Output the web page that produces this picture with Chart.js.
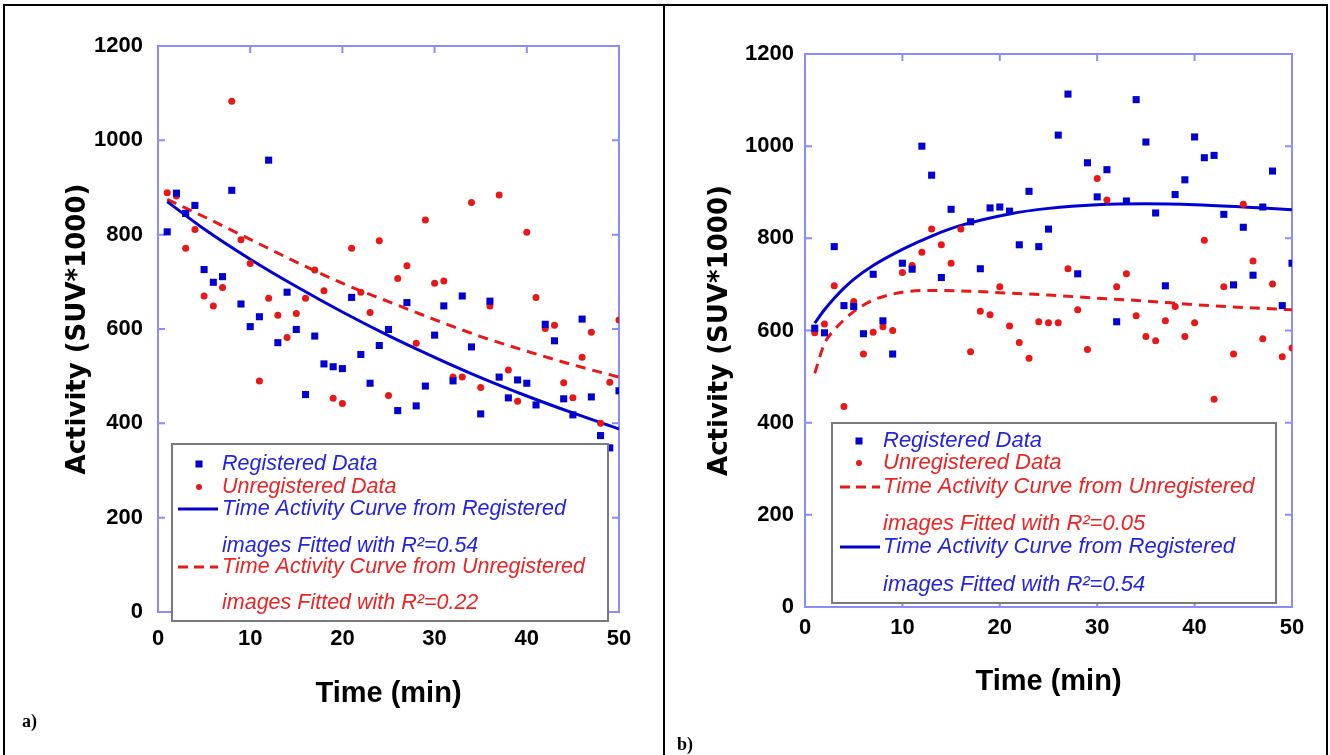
<!DOCTYPE html>
<html>
<head>
<meta charset="utf-8">
<title>Time Activity Curves</title>
<script src="https://cdn.jsdelivr.net/npm/chart.js@4.4.1/dist/chart.umd.min.js"></script>
<style>
  html, body { margin: 0; padding: 0; background: #fff; }
  body { width: 1330px; height: 755px; position: relative; overflow: hidden; }
  canvas { position: absolute; top: 0; }
  #chartA { left: 0; }
  #chartB { left: 664px; }
  .rule { position: absolute; background: #000; }
  .tag { position: absolute; font-family: 'Liberation Serif', 'Times New Roman', serif; font-weight: bold; font-size: 18px; color: #000; }
</style>
</head>
<body>
<canvas id="chartA" width="664" height="755"></canvas>
<canvas id="chartB" width="666" height="755"></canvas>

<div class="rule" style="left:3px;top:4px;width:1325px;height:2px"></div>
<div class="rule" style="left:3px;top:4px;width:2px;height:751px"></div>
<div class="rule" style="left:663px;top:4px;width:2px;height:751px"></div>
<div class="rule" style="left:1326px;top:4px;width:2px;height:751px"></div>
<div class="tag" style="left:22px;top:711px">a)</div>
<div class="tag" style="left:677px;top:734px">b)</div>

<script>
// ---- data ----
const minutes = [1, 2, 3, 4, 5, 6, 7, 8, 9, 10, 11, 12, 13, 14, 15, 16, 17, 18, 19, 20,
  21, 22, 23, 24, 25, 26, 27, 28, 29, 30, 31, 32, 33, 34, 35, 36, 37, 38, 39, 40,
  41, 42, 43, 44, 45, 46, 47, 48, 49, 50];

// panel a)
const regA = [806, 888, 845, 862, 726, 699, 711, 894, 653, 605, 626, 958, 571, 678, 599, 461, 585, 526, 520, 516,
  667, 546, 485, 565, 599, 427, 656, 437, 479, 587, 649, 490, 670, 562, 420, 659, 498, 454, 492, 485,
  439, 610, 575, 452, 418, 621, 456, 374, 348, 469];
const unregA = [889, 882, 771, 811, 670, 649, 688, 1083, 789, 739, 490, 665, 629, 582, 633, 665, 725, 681, 453, 442,
  771, 678, 635, 787, 459, 707, 734, 570, 831, 697, 702, 498, 498, 868, 476, 649, 884, 513, 447, 805,
  667, 601, 608, 486, 454, 540, 593, 400, 487, 619];
const fitTimeA = [1, 5, 10, 15, 20, 25, 30, 35, 40, 45, 50];
const fitRegA = [870, 812, 748, 690, 636, 586, 540, 497, 458, 422, 388];
const fitUnregA = [875, 838, 790, 742, 697, 658, 620, 584, 553, 524, 498];

// panel b)
const regB = [605, 595, 782, 654, 652, 593, 722, 621, 549, 746, 733, 1000, 937, 715, 863, null, 836, 734, 866, 868,
  859, 786, 902, 782, 820, 1024, 1113, 723, 964, 890, 949, 619, 881, 1101, 1009, 855, 697, 895, 927, 1020,
  975, 980, 852, 699, 824, 720, 868, 946, 654, 746];
const unregB = [595, 614, 697, 435, 663, 549, 596, 608, 600, 726, 741, 770, 820, 786, 746, 820, 554, 642, 634, 695,
  610, 574, 540, 619, 617, 617, 734, 645, 559, 930, 883, 695, 723, 632, 587, 578, 621, 652, 587, 617,
  796, 451, 695, 549, 874, 751, 582, 701, 543, 562];
const fitTimeB = [1, 2, 3, 4, 5, 7, 10, 13, 16, 21, 25, 30, 35, 40, 45, 50];
const fitRegB = [616, 645, 670, 692, 711, 741, 776, 805, 828, 853, 865, 873, 875, 873, 868, 862];
const fitUnregB = [507, 572, 601, 623, 641, 666, 683, 687, 686, 681, 677, 670, 664, 656, 650, 645];

const timeTicks = [0, 10, 20, 30, 40, 50];
const activityTicks = [0, 200, 400, 600, 800, 1000, 1200];

// ---- styles ----
const BLUE = '#0000d2';
const RED = '#e81818';
const BLUE_TEXT = '#2424e0';
const RED_TEXT = '#ec2424';
const FRAME = '#8c8cf8';
const SANS = "'Liberation Sans', Arial, Helvetica, sans-serif";

function toPoints(xs, ys) {
    return xs.map((x, i) => ({ x: x, y: ys[i] }));
}

// plot border with inward tick marks on all four sides
const framePlugin = {
    id: 'frame',
    beforeDatasetsDraw(chart) {
        const { ctx, chartArea: a, scales } = chart;
        ctx.save();
        ctx.strokeStyle = FRAME;
        ctx.lineWidth = 2;
        ctx.strokeRect(a.left, a.top, a.right - a.left, a.bottom - a.top);
        ctx.beginPath();
        scales.x.ticks.forEach((t) => {
            const px = scales.x.getPixelForValue(t.value);
            ctx.moveTo(px, a.bottom); ctx.lineTo(px, a.bottom - 7);
            ctx.moveTo(px, a.top); ctx.lineTo(px, a.top + 7);
        });
        scales.y.ticks.forEach((t) => {
            const py = scales.y.getPixelForValue(t.value);
            ctx.moveTo(a.left, py); ctx.lineTo(a.left + 7, py);
            ctx.moveTo(a.right, py); ctx.lineTo(a.right - 7, py);
        });
        ctx.stroke();
        ctx.restore();
    },
};

// boxed legend drawn inside the plot
function makeLegend(cfg) {
    return {
        id: 'tacLegend',
        afterDraw(chart) {
            const ctx = chart.ctx;
            const [x0, y0, x1, y1] = cfg.box;
            ctx.save();
            ctx.fillStyle = '#fff';
            ctx.fillRect(x0, y0, x1 - x0, y1 - y0);
            ctx.strokeStyle = '#7a7a7a';
            ctx.lineWidth = 2;
            ctx.strokeRect(x0, y0, x1 - x0, y1 - y0);
            ctx.font = 'italic ' + cfg.size + 'px ' + SANS;
            ctx.textBaseline = 'middle';
            ctx.textAlign = 'left';
            cfg.rows.forEach((r) => {
                const blue = r.color === 'blue';
                if (r.mark === 'rect') {
                    ctx.fillStyle = BLUE;
                    ctx.fillRect(cfg.markX - 3.5, r.y - 3.5, 7, 7);
                } else if (r.mark === 'dot') {
                    ctx.fillStyle = RED;
                    ctx.beginPath();
                    ctx.arc(cfg.markX, r.y, 3, 0, Math.PI * 2);
                    ctx.fill();
                } else if (r.mark === 'solid' || r.mark === 'dash') {
                    ctx.strokeStyle = blue ? BLUE : RED;
                    ctx.lineWidth = 3;
                    ctx.setLineDash(r.mark === 'dash' ? [10, 6] : []);
                    ctx.beginPath();
                    ctx.moveTo(cfg.lineX[0], r.y);
                    ctx.lineTo(cfg.lineX[1], r.y);
                    ctx.stroke();
                    ctx.setLineDash([]);
                }
                ctx.fillStyle = blue ? BLUE_TEXT : RED_TEXT;
                ctx.fillText(r.text, cfg.textX, r.y);
            });
            ctx.restore();
        },
    };
}

function buildChart(canvasId, s) {
    return new Chart(document.getElementById(canvasId), {
        type: 'scatter',
        data: {
            datasets: [
                {
                    label: 'Registered Data',
                    data: toPoints(minutes, s.reg),
                    pointStyle: 'rect',
                    pointRadius: 5,
                    backgroundColor: BLUE,
                    borderWidth: 0,
                },
                {
                    label: 'Unregistered Data',
                    data: toPoints(minutes, s.unreg),
                    pointStyle: 'circle',
                    pointRadius: 3.5,
                    backgroundColor: RED,
                    borderWidth: 0,
                },
                {
                    label: 'Fit registered',
                    data: toPoints(s.fitTime, s.fitReg),
                    showLine: true,
                    borderColor: BLUE,
                    borderWidth: 3,
                    pointRadius: 0,
                    cubicInterpolationMode: 'monotone',
                },
                {
                    label: 'Fit unregistered',
                    data: toPoints(s.fitTime, s.fitUnreg),
                    showLine: true,
                    borderColor: RED,
                    borderWidth: 3,
                    borderDash: [10, 7],
                    pointRadius: 0,
                    cubicInterpolationMode: 'monotone',
                },
            ],
        },
        options: {
            responsive: false,
            animation: false,
            events: [],
            layout: { padding: { top: s.top, right: s.right, left: 0, bottom: 0 } },
            plugins: { legend: { display: false }, tooltip: { enabled: false } },
            scales: {
                x: {
                    type: 'linear',
                    min: 0,
                    max: 50,
                    afterBuildTicks: (sc) => { sc.ticks = timeTicks.map((v) => ({ value: v })); },
                    ticks: {
                        padding: s.xTickPad,
                        color: '#000',
                        font: { family: SANS, weight: 'bold', size: 22 },
                        callback: (v) => String(v),
                    },
                    grid: { display: false, drawTicks: false },
                    border: { display: false },
                    title: {
                        display: true,
                        text: 'Time (min)',
                        color: '#000',
                        font: { family: SANS, weight: 'bold', size: 29 },
                        padding: { top: 0, bottom: s.xTitlePad },
                    },
                    afterFit: (sc) => { sc.height = s.xAxisH; },
                },
                y: {
                    min: 0,
                    max: 1200,
                    afterBuildTicks: (sc) => { sc.ticks = activityTicks.map((v) => ({ value: v })); },
                    ticks: {
                        padding: s.yTickPad,
                        color: '#000',
                        font: { family: SANS, weight: 'bold', size: 22 },
                        callback: (v) => String(v),
                    },
                    grid: { display: false, drawTicks: false },
                    border: { display: false },
                    title: {
                        display: true,
                        text: 'Activity (SUV*1000)',
                        color: '#000',
                        font: { family: "'DejaVu Sans', sans-serif", weight: 'bold', size: 26 },
                        padding: { top: s.yTitlePad, bottom: 0 },
                    },
                    afterFit: (sc) => { sc.width = s.yAxisW; },
                },
            },
        },
        plugins: [framePlugin, makeLegend(s.legend)],
    });
}

buildChart('chartA', {
    reg: regA, unreg: unregA, fitTime: fitTimeA, fitReg: fitRegA, fitUnreg: fitUnregA,
    top: 46, right: 45, yAxisW: 158, xAxisH: 143,
    xTickPad: 14, yTickPad: 15, xTitlePad: 43.6, yTitlePad: 62.4,
    legend: {
        box: [172, 444, 608, 621], size: 21.5, textX: 222, markX: 199, lineX: [178, 218],
        rows: [
            { mark: 'rect', color: 'blue', y: 464, text: 'Registered Data' },
            { mark: 'dot', color: 'red', y: 487, text: 'Unregistered Data' },
            { mark: 'solid', color: 'blue', y: 509, text: 'Time Activity Curve from Registered' },
            { color: 'blue', y: 546, text: 'images Fitted with R\u00B2=0.54' },
            { mark: 'dash', color: 'red', y: 567, text: 'Time Activity Curve from Unregistered' },
            { color: 'red', y: 603, text: 'images Fitted with R\u00B2=0.22' },
        ],
    },
});

buildChart('chartB', {
    reg: regB, unreg: unregB, fitTime: fitTimeB, fitReg: fitRegB, fitUnreg: fitUnregB,
    top: 54, right: 38, yAxisW: 141, xAxisH: 148,
    xTickPad: 8, yTickPad: 11, xTitlePad: 55.6, yTitlePad: 40.4,
    legend: {
        box: [168, 423, 612, 603], size: 22, textX: 219, markX: 195, lineX: [176, 216],
        rows: [
            { mark: 'rect', color: 'blue', y: 441, text: 'Registered Data' },
            { mark: 'dot', color: 'red', y: 463, text: 'Unregistered Data' },
            { mark: 'dash', color: 'red', y: 487, text: 'Time Activity Curve from Unregistered' },
            { color: 'red', y: 524, text: 'images Fitted with R\u00B2=0.05' },
            { mark: 'solid', color: 'blue', y: 547, text: 'Time Activity Curve from Registered' },
            { color: 'blue', y: 585, text: 'images Fitted with R\u00B2=0.54' },
        ],
    },
});
</script>
</body>
</html>
